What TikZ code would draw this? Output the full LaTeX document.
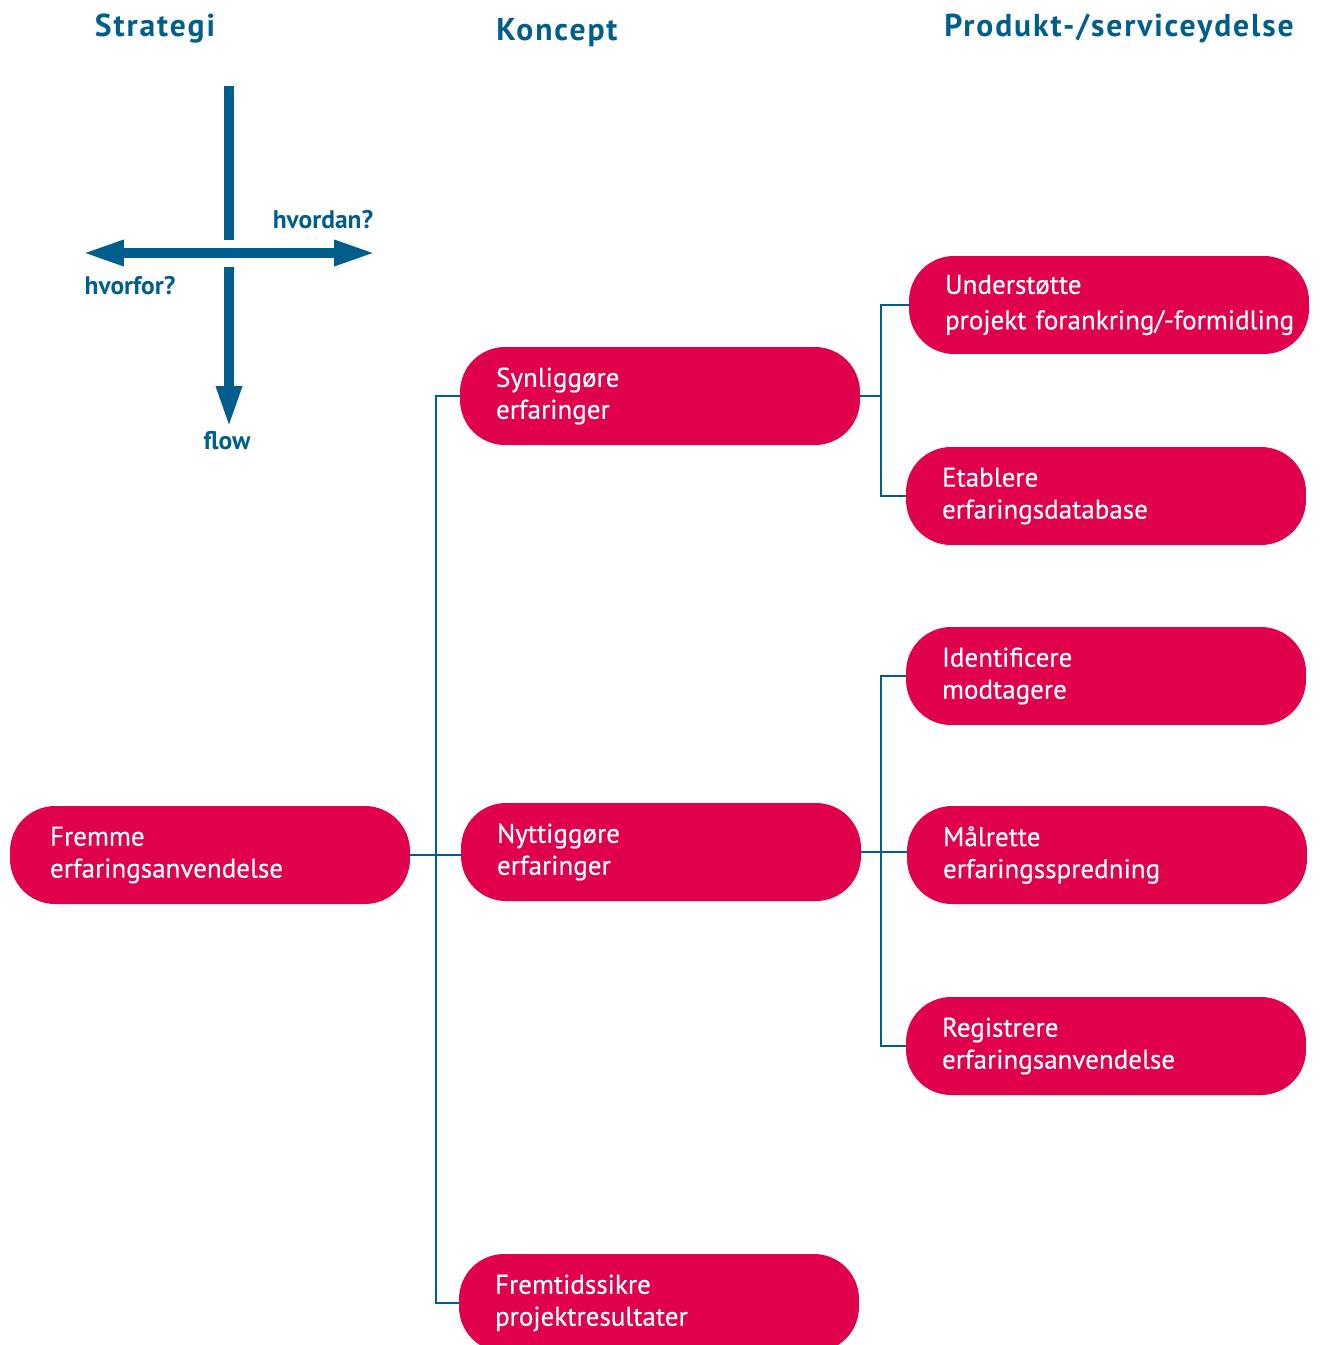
\documentclass[tikz,border=0pt]{standalone}
\usepackage{fontspec}
\setmainfont{PT Sans}
\usetikzlibrary{arrows.meta}
\definecolor{kblue}{RGB}{0,94,140}
\definecolor{kred}{RGB}{224,0,75}

\begin{document}
\begin{tikzpicture}[x = 0.02cm, y = -0.02cm,
    box/.style = {fill=kred, text=white, rounded corners=0.9cm, minimum height=1.96cm,
        text width=6.56cm, inner xsep=0.72cm, inner ysep=0pt, align=left,
        font=\fontsize{15.4}{18.2}\selectfont\addfontfeatures{FakeBold=0.4}},
    widebox/.style = {box, text width=6.4cm, inner xsep=0.8cm},
    link/.style = {draw=kblue, line width=1.6pt},
    head/.style = {text=kblue, anchor=base,
        font=\bfseries\fontsize{18}{20}\selectfont\addfontfeatures{LetterSpace=6}},
    axis/.style = {draw=kblue, line width=0.2cm},
    tip/.style = {-{Triangle[length=0.84cm, width=0.47cm]}},
    tag/.style = {text=kblue, font=\bfseries\fontsize{14.5}{16}\selectfont}]
    \useasboundingbox (0, 0) rectangle (1319, 1345);
    \clip (0, 0) rectangle (1319, 1345);

    \node[head] (strat) at (155, 37) {Strategi};
    \node[head] (konc) at (557, 41) {Koncept};
    \node[head] (prod) at (1119, 37) {Produkt-/serviceydelse};

    % orientation cross
    \coordinate (top) at (229, 86);
    \coordinate (gapN) at (229, 240);
    \coordinate (gapS) at (229, 267);
    \coordinate (down) at (229, 428);
    \coordinate (west) at (82, 253);
    \coordinate (east) at (376, 253);
    \draw[axis] (top) -- (gapN);
    \draw[axis, tip] (gapS) -- (down);
    \draw[axis, tip] (gapN |- west) -- (west);
    \draw[axis, tip] (gapN |- east) -- (east);
    \node[tag] (how) at (323, 220) {hvordan?};
    \node[tag] (why) at (130, 286) {hvorfor?};
    \node[tag] (flow) at (227, 441) {flow};

    \node[widebox] (fremme) at (210, 855) {Fremme\\erfaringsanvendelse};
    \node[box] (synl) at (660, 396) {Synliggøre\\erfaringer};
    \node[box] (nytt) at (661, 852) {Nyttiggøre\\erfaringer};
    \node[box] (fremt) at (659, 1303) {Fremtidssikre\\projektresultater};

    \node[box] (unders) at (1109, 305) {Understøtte\\[2pt]\mbox{projekt forankring/-formidling}};
    \node[box] (etabl) at (1106, 496) {Etablere\\erfaringsdatabase};
    \node[box] (ident) at (1106, 676) {Identificere\\modtagere};
    \node[box] (malr) at (1107, 855) {Målrette\\erfaringsspredning};
    \node[box] (regis) at (1106, 1046) {Registrere\\erfaringsanvendelse};

    \coordinate (busL) at (436, 855);
    \coordinate (busR) at (881, 852);
    \draw[link] (synl.west) -| (busL |- fremt.west) -- (fremt.west);
    \draw[link] (fremme.east) -- (fremme.east -| nytt.west);
    \draw[link] (synl.east) -- (busR |- synl.east);
    \draw[link] (unders.west) -| (busR |- etabl.west) -- (etabl.west);
    \draw[link] (ident.west) -| (busR |- regis.west) -- (regis.west);
    \draw[link] (nytt.east) -- (nytt.east -| malr.west);
\end{tikzpicture}
\end{document}
